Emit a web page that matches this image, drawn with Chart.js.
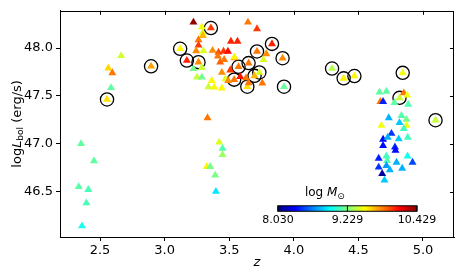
<!DOCTYPE html>
<html>
<head>
<meta charset="utf-8">
<script src="https://cdn.jsdelivr.net/npm/chart.js@4.4.1/dist/chart.umd.min.js"></script>
<style>
  html, body { margin: 0; padding: 0; background: #fff; }
  #wrap { width: 463px; height: 273px; }
</style>
</head>
<body>
<div id="wrap"><canvas id="chart" width="463" height="273"></canvas></div>
<script>
// plain triangles: redshift, log Lbol, log M (colour)
var triZ = [2.663, 2.564, 2.595, 2.585, 2.353, 2.453, 2.335, 2.409, 2.394, 2.360,
  3.422, 3.448, 3.448, 3.327, 3.353, 3.391, 3.397, 3.332,
  3.223, 3.288, 3.295, 3.296, 3.262, 3.262, 3.244, 3.300, 3.645, 3.715, 3.513, 3.564,
  3.371, 3.417, 3.456, 3.490, 3.412, 3.430, 3.764, 3.787, 3.223, 3.288, 3.250, 3.288,
  3.365, 3.339, 3.384, 3.443, 3.443, 3.461, 3.541, 3.508, 3.469, 3.585, 3.492, 3.630,
  3.650, 3.756, 3.539,
  4.851, 4.663, 4.717, 4.670, 4.691, 4.779, 4.878, 4.885, 4.735, 4.833, 4.818, 4.872,
  4.872, 4.678, 4.851, 4.756, 4.691, 4.727, 4.812, 4.882, 4.691, 4.783, 4.787, 4.657,
  4.717, 4.722, 4.795, 4.880, 4.919, 4.657, 4.717, 4.743, 4.839, 4.684, 4.702];
var triL = [47.92, 47.79, 47.74, 47.585, 47.00, 46.82, 46.55, 46.52, 46.38, 46.14,
  47.015, 46.95, 46.885, 46.76, 46.76, 46.67, 46.50, 47.27,
  48.27, 48.22, 48.16, 48.13, 48.085, 48.03, 47.97, 47.97, 48.27, 48.20, 48.07, 48.07,
  47.975, 47.955, 47.965, 47.965, 47.915, 47.853, 47.88, 47.94, 47.784, 47.796, 47.695, 47.695,
  47.66, 47.593, 47.59, 47.58, 47.745, 47.88, 47.898, 47.77, 47.677, 47.70, 47.66, 47.687,
  47.636, 47.633, 47.904,
  47.53, 47.54, 47.548, 47.44, 47.44, 47.43, 47.507, 47.41, 47.27, 47.293, 47.219, 47.253,
  47.191, 47.191, 47.158, 47.107, 47.046, 47.066, 47.049, 47.066, 46.98, 46.964, 46.93, 46.847,
  46.87, 46.824, 46.805, 46.87, 46.805, 46.754, 46.771, 46.727, 46.743, 46.686, 46.618];
var triM = [9.42, 9.62, 9.85, 9.15, 9.15, 9.15, 9.14, 9.10, 9.10, 8.98,
  9.45, 9.12, 9.30, 9.55, 9.22, 9.22, 8.88, 9.85,
  10.38, 9.50, 9.45, 9.70, 9.85, 10.00, 9.80, 9.45, 9.85, 10.00, 10.05, 10.05,
  9.80, 9.95, 10.00, 10.10, 9.85, 9.90, 9.45, 9.80, 9.20, 9.40, 9.40, 9.20,
  9.55, 9.40, 9.55, 9.55, 9.80, 9.85, 9.85, 10.00, 9.45, 10.10, 9.80, 9.85,
  9.85, 9.85, 9.55,
  9.85, 9.15, 9.15, 9.85, 8.40, 9.15, 9.50, 9.12, 8.75, 9.12, 8.80, 9.20,
  9.50, 9.50, 9.08, 8.45, 8.35, 8.75, 8.80, 9.08, 8.35, 8.40, 8.35, 8.40,
  9.08, 9.12, 8.75, 8.98, 8.50, 8.45, 8.70, 8.75, 8.75, 8.10, 8.80];

// circled sources
var circZ = [2.554, 2.895, 3.120, 3.172, 3.262, 3.358, 3.572, 3.650, 3.715, 3.831, 3.913,
  3.538, 3.696, 3.733, 3.640, 3.924, 4.296, 4.386, 4.469, 4.843, 4.818, 5.097];
var circL = [47.463, 47.81, 47.993, 47.87, 47.853, 48.21, 47.805, 47.843, 47.965, 48.044, 47.894,
  47.67, 47.71, 47.745, 47.596, 47.596, 47.786, 47.684, 47.708, 47.741, 47.48, 47.246];
var circM = [9.60, 9.75, 9.55, 10.05, 9.80, 10.00, 9.85, 9.85, 9.85, 10.05, 9.80,
  9.85, 9.70, 9.45, 9.60, 9.18, 9.35, 9.55, 9.55, 9.50, 9.40, 9.40];

var xTicks = [2.5, 3.0, 3.5, 4.0, 4.5, 5.0];
var yTicks = [46.5, 47.0, 47.5, 48.0];
var cbTicks = [8.030, 9.229, 10.429];
var mMin = 8.030, mMax = 10.429;

var FONT = "'DejaVu Sans', sans-serif";

function clamp(v) { return Math.max(0, Math.min(1, v)); }

// matplotlib "jet"
function jet(m) {
    var t = clamp((m - mMin) / (mMax - mMin));
    var r = clamp(1.5 - Math.abs(4 * t - 3));
    var g = clamp(1.5 - Math.abs(4 * t - 2));
    var b = clamp(1.5 - Math.abs(4 * t - 1));
    return 'rgb(' + Math.round(r * 255) + ',' + Math.round(g * 255) + ',' + Math.round(b * 255) + ')';
}

function points(zs, ls) {
    var out = [];
    for (var i = 0; i < zs.length; i++) {
        out.push({x: zs[i], y: ls[i]});
    }
    return out;
}

var framePlugin = {
    id: 'frame',
    afterDraw: function(chart) {
        var ctx = chart.ctx;
        var a = chart.chartArea;
        var xs = chart.scales.x, ys = chart.scales.y;
        ctx.save();
        ctx.strokeStyle = '#000';
        ctx.lineWidth = 1;
        ctx.strokeRect(Math.round(a.left) + 0.5, Math.round(a.top) + 0.5,
            Math.round(a.right - a.left) - 1, Math.round(a.bottom - a.top));

        // inward ticks on top and right
        ctx.beginPath();
        xTicks.forEach(function(v) {
            var px = Math.round(xs.getPixelForValue(v)) + 0.5;
            ctx.moveTo(px, a.top);
            ctx.lineTo(px, a.top + 4);
        });
        yTicks.forEach(function(v) {
            var py = Math.round(ys.getPixelForValue(v)) + 0.5;
            ctx.moveTo(a.right, py);
            ctx.lineTo(a.right - 4, py);
        });
        ctx.stroke();

        // y axis title
        ctx.fillStyle = '#000';
        ctx.textBaseline = 'middle';
        ctx.translate(18, (a.top + a.bottom) / 2);
        ctx.rotate(-Math.PI / 2);
        var parts = [
            {t: 'log', f: '13px ' + FONT, dy: 0},
            {t: 'L', f: 'italic 13px ' + FONT, dy: 0},
            {t: 'bol', f: '9px ' + FONT, dy: 3},
            {t: ' (erg/s)', f: '13px ' + FONT, dy: 0}
        ];
        var total = 0;
        parts.forEach(function(p) { ctx.font = p.f; p.w = ctx.measureText(p.t).width; total += p.w; });
        var cx = -total / 2;
        ctx.textAlign = 'left';
        parts.forEach(function(p) { ctx.font = p.f; ctx.fillText(p.t, cx, p.dy); cx += p.w; });
        ctx.restore();

        // x axis title
        ctx.save();
        ctx.fillStyle = '#000';
        ctx.font = 'italic 13px ' + FONT;
        ctx.textAlign = 'center';
        ctx.textBaseline = 'middle';
        ctx.fillText('z', (a.left + a.right) / 2, 263);
        ctx.restore();

        // colour bar
        var w = a.right - a.left, h = a.bottom - a.top;
        var bx0 = a.left + 0.553 * w, bx1 = a.left + 0.906 * w;
        var by0 = a.top + 0.862 * h, by1 = by0 + 5.5;
        ctx.save();
        var grad = ctx.createLinearGradient(bx0, 0, bx1, 0);
        for (var i = 0; i <= 40; i++) {
            grad.addColorStop(i / 40, jet(mMin + (mMax - mMin) * i / 40));
        }
        ctx.fillStyle = grad;
        ctx.fillRect(bx0, by0, bx1 - bx0, by1 - by0);
        ctx.strokeStyle = '#000';
        ctx.lineWidth = 1;
        ctx.strokeRect(bx0, by0, bx1 - bx0, by1 - by0);
        ctx.fillStyle = '#000';
        ctx.font = '11px ' + FONT;
        ctx.textAlign = 'center';
        ctx.textBaseline = 'top';
        cbTicks.forEach(function(v) {
            var px = bx0 + (v - mMin) / (mMax - mMin) * (bx1 - bx0);
            ctx.beginPath();
            ctx.moveTo(px, by0);
            ctx.lineTo(px, by1);
            ctx.stroke();
            ctx.fillText(v.toFixed(3), px, by1 + 3);
        });
        // colour bar label: log M_sun
        ctx.textAlign = 'left';
        ctx.textBaseline = 'alphabetic';
        var lx = bx0 + 27, ly = by0 - 10;
        ctx.font = '12px ' + FONT;
        ctx.fillText('log ', lx, ly);
        lx += ctx.measureText('log ').width;
        ctx.font = 'italic 12px ' + FONT;
        ctx.fillText('M', lx, ly);
        lx += ctx.measureText('M').width;
        ctx.font = '9px ' + FONT;
        ctx.fillText('\u2299', lx, ly + 3);
        ctx.restore();
    }
};

new Chart(document.getElementById('chart'), {
    type: 'scatter',
    data: {
        datasets: [{
            data: points(triZ, triL),
            pointStyle: 'triangle',
            pointRadius: 4.6,
            borderWidth: 0,
            backgroundColor: triM.map(jet)
        }, {
            data: points(circZ, circL),
            pointStyle: 'triangle',
            pointRadius: 4.6,
            borderWidth: 0,
            backgroundColor: circM.map(jet)
        }, {
            data: points(circZ, circL),
            pointStyle: 'circle',
            pointRadius: 6.6,
            borderWidth: 1.3,
            borderColor: '#000',
            backgroundColor: 'rgba(0,0,0,0)'
        }]
    },
    options: {
        responsive: false,
        animation: false,
        events: [],
        layout: { padding: { top: 5, right: 9, left: 0, bottom: 0 } },
        plugins: { legend: { display: false }, tooltip: { enabled: false } },
        scales: {
            x: {
                type: 'linear',
                min: 2.19,
                max: 5.24,
                afterFit: function(s) { s.height = 36; },
                afterBuildTicks: function(s) { s.ticks = xTicks.map(function(v) { return {value: v}; }); },
                grid: { drawOnChartArea: false, drawTicks: true, tickLength: 4, color: '#000' },
                border: { color: '#000', width: 1 },
                ticks: {
                    color: '#000',
                    font: { family: FONT, size: 13 },
                    padding: 2,
                    maxRotation: 0,
                    callback: function(v) { return v.toFixed(1); }
                }
            },
            y: {
                type: 'linear',
                min: 46.025,
                max: 48.39,
                afterFit: function(s) { s.width = 60; },
                afterBuildTicks: function(s) { s.ticks = yTicks.map(function(v) { return {value: v}; }); },
                grid: { drawOnChartArea: false, drawTicks: true, tickLength: 4, color: '#000' },
                border: { color: '#000', width: 1 },
                ticks: {
                    color: '#000',
                    font: { family: FONT, size: 13 },
                    padding: 3,
                    callback: function(v) { return v.toFixed(1); }
                }
            }
        }
    },
    plugins: [framePlugin]
});
</script>
</body>
</html>
